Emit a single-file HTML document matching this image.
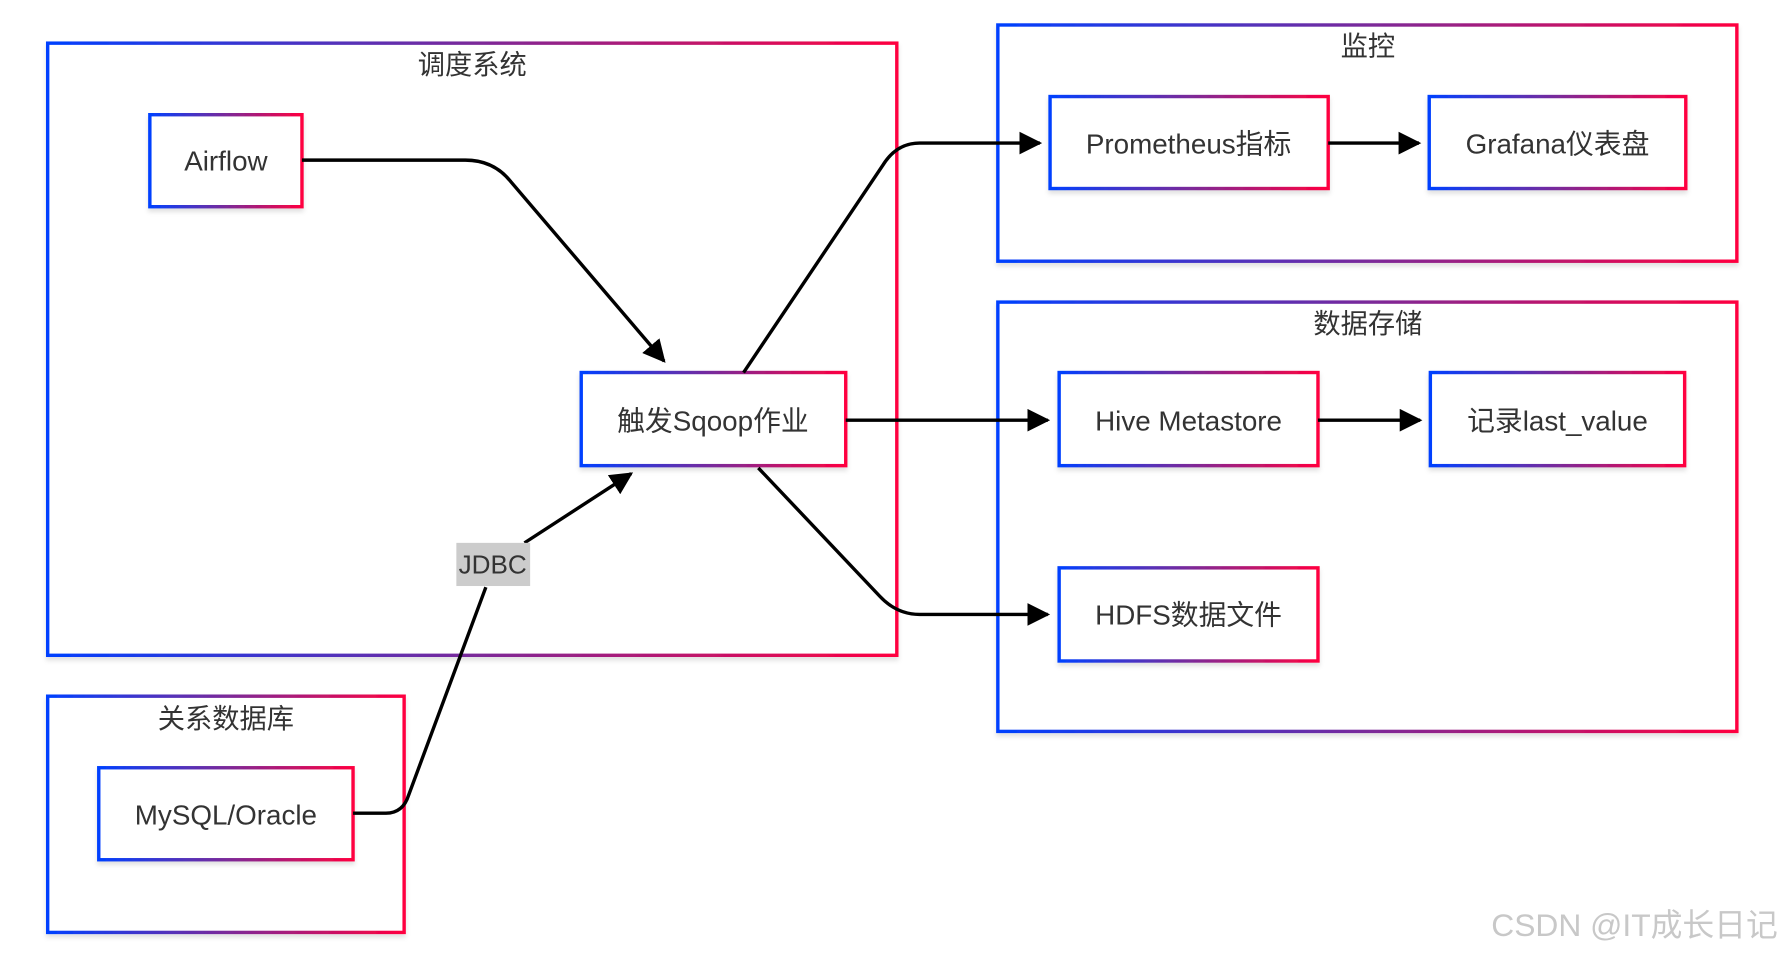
<!DOCTYPE html>
<html><head><meta charset="utf-8"><style>
html,body{margin:0;padding:0;background:#fff;}
svg{display:block}
text{font-family:"Liberation Sans","Noto Sans CJK SC",sans-serif;fill:#333;}
</style></head><body>
<svg width="1780" height="954" viewBox="0 0 1568 840" preserveAspectRatio="none" xmlns="http://www.w3.org/2000/svg">
<defs>
<linearGradient id="g" x1="0" y1="0" x2="1" y2="0">
<stop offset="0" stop-color="#0040ff"/><stop offset="0.5" stop-color="#7a2a9a"/><stop offset="1" stop-color="#ff0040"/>
</linearGradient>
<marker id="b" viewBox="0 0 10 10" refX="9" refY="5" markerWidth="20" markerHeight="20" orient="auto" markerUnits="userSpaceOnUse"><path d="M0,0 L10,5 L0,10 z" fill="#000"/></marker>
<filter id="s" x="-5%" y="-5%" width="110%" height="120%"><feDropShadow dx="0" dy="3" stdDeviation="2" flood-color="#000" flood-opacity="0.12"/></filter>
</defs>
<g fill="#fff" stroke="url(#g)" stroke-width="3" filter="url(#s)">
<rect x="42" y="38" width="748" height="539"/>
<rect x="879" y="22" width="651" height="208"/>
<rect x="879" y="266" width="651" height="378"/>
<rect x="42" y="613" width="314" height="208"/>
</g>
<g font-size="24" text-anchor="middle">
<text x="416" y="65" fill="#111">调度系统</text>
<text x="1205" y="49" fill="#111">监控</text>
<text x="1205" y="293" fill="#111">数据存储</text>
<text x="199" y="641" fill="#111">关系数据库</text>
</g>
<g fill="#fff" stroke="url(#g)" stroke-width="3" filter="url(#s)">
<rect x="132" y="101" width="134" height="81"/>
<rect x="512" y="328" width="233" height="82"/>
<rect x="925" y="85" width="245" height="81"/>
<rect x="1259" y="85" width="226" height="81"/>
<rect x="933" y="328" width="228" height="82"/>
<rect x="1260" y="328" width="224" height="82"/>
<rect x="933" y="500" width="228" height="82"/>
<rect x="87" y="676" width="224" height="81"/>
</g>
<g fill="none" stroke="#000" stroke-width="3">
<path d="M266,141 L410,141 Q435,141 450,160 L585,318" marker-end="url(#b)"/>
<path d="M655,328 L778,145 Q790,126 810,126 L916,126" marker-end="url(#b)"/>
<path d="M1170,126 L1250,126" marker-end="url(#b)"/>
<path d="M745,370 L923,370" marker-end="url(#b)"/>
<path d="M1161,370 L1251,370" marker-end="url(#b)"/>
<path d="M668,412 L775,525 Q790,541 810,541 L923,541" marker-end="url(#b)"/>
<path d="M311,716 L340,716 Q355,716 360,700 L428,517 M462,478 L556,417" marker-end="url(#b)"/>
</g>
<rect x="402" y="478" width="65" height="38" fill="#ccc"/>
<text x="434" y="505" font-size="23" text-anchor="middle">JDBC</text>
<g font-size="24.5" text-anchor="middle">
<text x="199" y="150">Airflow</text>
<text x="628" y="379">触发Sqoop作业</text>
<text x="1047" y="135">Prometheus指标</text>
<text x="1372" y="135">Grafana仪表盘</text>
<text x="1047" y="379">Hive Metastore</text>
<text x="1372" y="379">记录last_value</text>
<text x="1047" y="550">HDFS数据文件</text>
<text x="199" y="726">MySQL/Oracle</text>
</g>
<text x="1566" y="824" font-size="28" text-anchor="end" style="fill:#c8c8c8">CSDN @IT成长日记</text>
</svg>
</body></html>
